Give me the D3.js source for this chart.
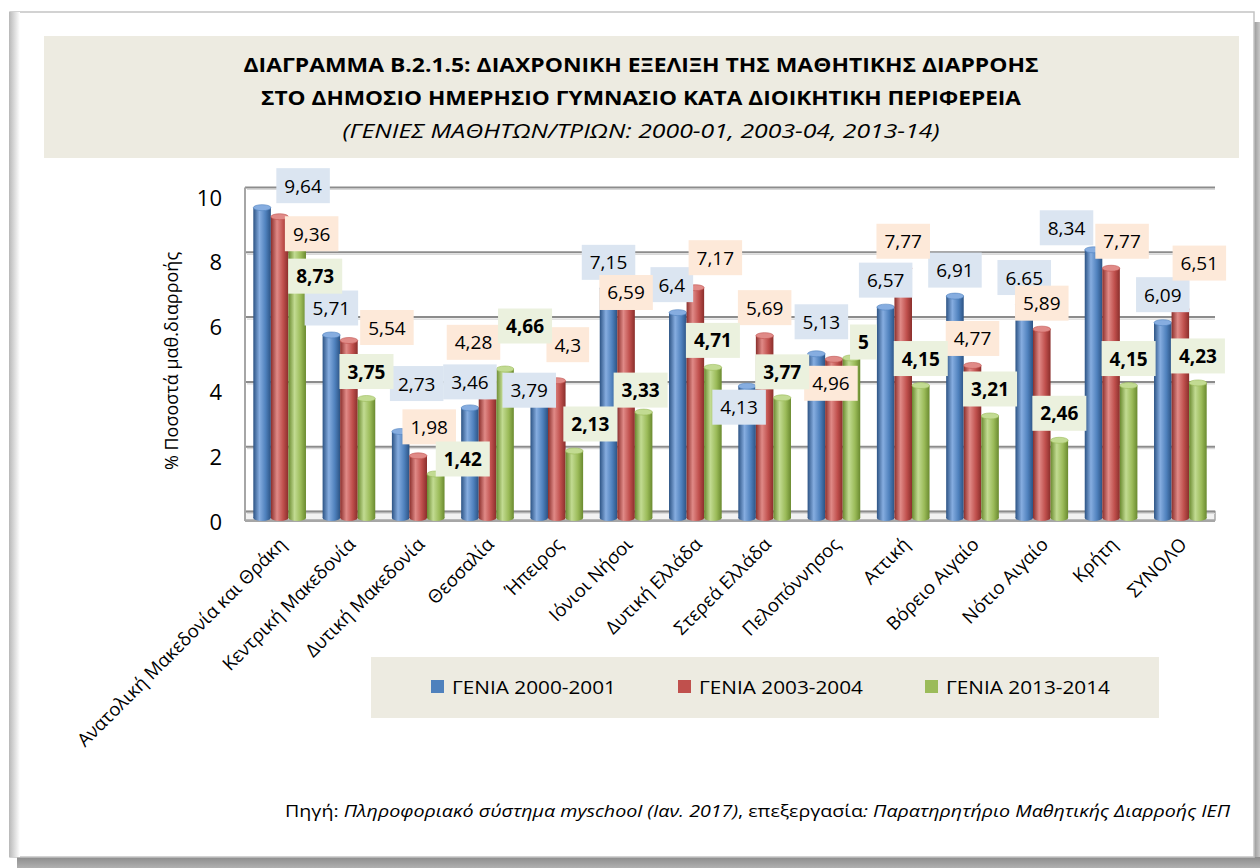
<!DOCTYPE html>
<html>
<head>
<meta charset="utf-8">
<script src="https://cdn.jsdelivr.net/npm/d3@7"></script>
<style>
  body { margin: 0; background: #fff; }
  svg { display: block; }
  text { font-family: "Open Sans", "Noto Sans", sans-serif; fill: #000; }
</style>
</head>
<body>
<svg id="chart" width="1260" height="868"></svg>
<script>
// chart data
var categories = ["Ανατολική Μακεδονία και Θράκη", "Κεντρική Μακεδονία", "Δυτική Μακεδονία", "Θεσσαλία",
  "Ήπειρος", "Ιόνιοι Νήσοι", "Δυτική Ελλάδα", "Στερεά Ελλάδα", "Πελοπόννησος", "Αττική",
  "Βόρειο Αιγαίο", "Νότιο Αιγαίο", "Κρήτη", "ΣΥΝΟΛΟ"];
var seriesNames = ["ΓΕΝΙΑ 2000-2001", "ΓΕΝΙΑ 2003-2004", "ΓΕΝΙΑ 2013-2014"];
var gen2000 = [9.64, 5.71, 2.73, 3.46, 3.79, 7.15, 6.4, 4.13, 5.13, 6.57, 6.91, 6.65, 8.34, 6.09];
var gen2003 = [9.36, 5.54, 1.98, 4.28, 4.3, 6.59, 7.17, 5.69, 4.96, 7.77, 4.77, 5.89, 7.77, 6.51];
var gen2013 = [8.73, 3.75, 1.42, 4.66, 2.13, 3.33, 4.71, 3.77, 5, 4.15, 3.21, 2.46, 4.15, 4.23];
var yTicks = [0, 2, 4, 6, 8, 10];
// the original prints this one value with a dot
var labelOverride = { "0-11": "6.65" };

// layout: where each value label sits relative to its bar top [dx, dy]
var offs2000 = [[41,-22],[0,-27],[16,-48],[0,-26],[-10,-7],[0,-26],[-6,-28],[-8,21],[5,-32],[0,-27],[0,-26],[0,-27],[-27,-22],[0,-28]];
var offs2003 = [[32,17],[38,-13],[11,-29],[-14,-39],[11,-36],[0,-14],[20,-30],[0,-28],[-3,24],[0,-27],[0,-27],[0,-26],[11,-27],[19,-46]];
var offs2013 = [[18,39],[0,-27],[27,-15],[20,-43],[16,-27],[-3,-22],[0,-27],[0,-26],[12,-16],[0,-27],[0,-27],[0,-27],[0,-27],[0,-27]];

var series = [
  { name: seriesNames[0], values: gen2000, offs: offs2000, color: "#4F81BD", dark: "#2c5384", light: "#86ade0", tag: "#DBE5F1", bold: false },
  { name: seriesNames[1], values: gen2003, offs: offs2003, color: "#C0504D", dark: "#8a2e2b", light: "#e08a87", tag: "#FDE9D9", bold: false },
  { name: seriesNames[2], values: gen2013, offs: offs2013, color: "#9BBB59", dark: "#6a8a2f", light: "#c2db92", tag: "#EBF1DE", bold: true }
];

var svg = d3.select("#chart");
var defs = svg.append("defs");

// ---- outer frame with shadow ----
var lg = defs.append("linearGradient").attr("id", "leftBand");
lg.append("stop").attr("offset", 0).attr("stop-color", "#b8b8b8");
lg.append("stop").attr("offset", 1).attr("stop-color", "#ffffff");
var bg = defs.append("linearGradient").attr("id", "botBand").attr("x1", 0).attr("x2", 0).attr("y1", 0).attr("y2", 1);
bg.append("stop").attr("offset", 0).attr("stop-color", "#8c8c8c");
bg.append("stop").attr("offset", 1).attr("stop-color", "#b0b0b0");
var rg = defs.append("linearGradient").attr("id", "rightBand");
rg.append("stop").attr("offset", 0).attr("stop-color", "#9a9a9a");
rg.append("stop").attr("offset", 1).attr("stop-color", "#c8c8c8");

svg.append("rect").attr("x", 1254).attr("y", 22).attr("width", 6).attr("height", 846).attr("fill", "url(#rightBand)");
svg.append("rect").attr("x", 17).attr("y", 857).attr("width", 1243).attr("height", 11).attr("fill", "url(#botBand)");
svg.append("rect").attr("x", 10).attr("y", 12).attr("width", 1244).attr("height", 845)
  .attr("fill", "#fff").attr("stroke", "#c4c4c4").attr("stroke-width", 1.5);
svg.append("rect").attr("x", 9).attr("y", 12).attr("width", 11).attr("height", 845).attr("fill", "url(#leftBand)");

// ---- title ----
svg.append("rect").attr("x", 44).attr("y", 36).attr("width", 1195).attr("height", 122).attr("fill", "#EDEBE1");
var titleLines = [
  { t: "ΔΙΑΓΡΑΜΜΑ Β.2.1.5: ΔΙΑΧΡΟΝΙΚΗ ΕΞΕΛΙΞΗ ΤΗΣ ΜΑΘΗΤΙΚΗΣ ΔΙΑΡΡΟΗΣ", y: 72, len: 795, italic: false },
  { t: "ΣΤΟ ΔΗΜΟΣΙΟ ΗΜΕΡΗΣΙΟ ΓΥΜΝΑΣΙΟ ΚΑΤΑ ΔΙΟΙΚΗΤΙΚΗ ΠΕΡΙΦΕΡΕΙΑ", y: 105, len: 760, italic: false },
  { t: "(ΓΕΝΙΕΣ ΜΑΘΗΤΩΝ/ΤΡΙΩΝ: 2000-01, 2003-04, 2013-14)", y: 138, len: 597, italic: true }
];
svg.selectAll(".title").data(titleLines).enter().append("text")
  .attr("class", "title")
  .attr("x", 641).attr("y", function(d) { return d.y; })
  .attr("text-anchor", "middle")
  .attr("font-size", 20)
  .attr("font-weight", function(d) { return d.italic ? "normal" : "bold"; })
  .attr("font-style", function(d) { return d.italic ? "italic" : "normal"; })
  .attr("textLength", function(d) { return d.len; })
  .attr("lengthAdjust", "spacingAndGlyphs")
  .text(function(d) { return d.t; });

// ---- scales ----
var x0 = d3.scaleBand().domain(categories).range([245, 1215]).paddingInner(0.24).paddingOuter(0.12);
var x1 = d3.scaleBand().domain(seriesNames).range([0, x0.bandwidth()]);
var y = d3.scaleLinear().domain([0, 10]).range([520, 196]);
var back = -8.5; // back wall is drawn a little higher than the front

// ---- walls, floor, gridlines ----
var plot = svg.append("g");
plot.append("path")
  .attr("d", "M245," + y(0) + "L1215," + y(0) + "L1215," + (y(0) + back) + "L245," + (y(0) + back) + "Z")
  .attr("fill", "#f2f2f2").attr("stroke", "#a6a6a6").attr("stroke-width", 1.5);
plot.selectAll(".grid").data(yTicks).enter().append("line")
  .attr("x1", 245).attr("x2", 1215)
  .attr("y1", function(d) { return y(d) + back; })
  .attr("y2", function(d) { return y(d) + back; })
  .attr("stroke", "#8c8c8c").attr("stroke-width", 2);
plot.selectAll(".grid2").data(yTicks).enter().append("line")
  .attr("x1", 247).attr("x2", 1215)
  .attr("y1", function(d) { return y(d) + back + 2; })
  .attr("y2", function(d) { return y(d) + back + 2; })
  .attr("stroke", "#d9d9d9").attr("stroke-width", 1.2);
plot.append("line").attr("x1", 245).attr("x2", 245).attr("y1", y(10) + back).attr("y2", y(0) + 1)
  .attr("stroke", "#a6a6a6").attr("stroke-width", 2);
plot.append("line").attr("x1", 245).attr("x2", 1215).attr("y1", y(0) + 1).attr("y2", y(0) + 1)
  .attr("stroke", "#a6a6a6").attr("stroke-width", 2);

// ---- y axis ----
var yAxis = d3.axisLeft(y).tickValues(yTicks).tickSize(0).tickPadding(0).tickFormat(d3.format("d"));
var ya = svg.append("g").attr("transform", "translate(222,2)").call(yAxis);
ya.select(".domain").remove();
ya.selectAll("text").attr("font-size", 22).attr("font-family", "'Open Sans', sans-serif").attr("fill", "#000");

svg.append("text")
  .attr("transform", "translate(178,361) rotate(-90)")
  .attr("text-anchor", "middle")
  .attr("font-size", 18)
  .text("% Ποσοστά μαθ.διαρροής");

// ---- cylinder gradients ----
series.forEach(function(s, i) {
  var g = defs.append("linearGradient").attr("id", "cyl" + i);
  g.append("stop").attr("offset", 0).attr("stop-color", s.dark);
  g.append("stop").attr("offset", 0.35).attr("stop-color", s.light);
  g.append("stop").attr("offset", 0.7).attr("stop-color", s.color);
  g.append("stop").attr("offset", 1).attr("stop-color", s.dark);
});

// ---- bars ----
var bw = x1.bandwidth();
var groups = svg.append("g").selectAll(".grp").data(categories).enter().append("g")
  .attr("transform", function(d) { return "translate(" + x0(d) + ",0)"; });

series.forEach(function(s, si) {
  groups.each(function(cat, ci) {
    var g = d3.select(this);
    var v = s.values[ci];
    var bx = x1(s.name);
    g.append("ellipse").attr("cx", bx + bw / 2).attr("cy", y(0) - 2).attr("rx", bw / 2).attr("ry", 3)
      .attr("fill", "url(#cyl" + si + ")");
    g.append("rect").attr("x", bx).attr("y", y(v)).attr("width", bw).attr("height", y(0) - 2 - y(v))
      .attr("fill", "url(#cyl" + si + ")");
    g.append("ellipse").attr("cx", bx + bw / 2).attr("cy", y(v)).attr("rx", bw / 2).attr("ry", 3)
      .attr("fill", s.light).attr("stroke", s.color).attr("stroke-width", 0.6);
  });
});

// ---- value labels ----
var labels = svg.append("g");
series.forEach(function(s, si) {
  s.values.forEach(function(v, ci) {
    var cx = x0(categories[ci]) + x1(s.name) + bw / 2 + s.offs[ci][0];
    var cy = y(v) + s.offs[ci][1];
    var txt = labelOverride[si + "-" + ci] || String(v).replace(".", ",");
    var lab = labels.append("g");
    var t = lab.append("text")
      .attr("x", cx).attr("y", cy + 7)
      .attr("text-anchor", "middle")
      .attr("font-size", 19)
      .attr("font-weight", s.bold ? "bold" : "normal")
      .text(txt);
    var w = t.node().getComputedTextLength() + 16;
    lab.insert("rect", "text")
      .attr("x", cx - w / 2).attr("y", cy - 17.5)
      .attr("width", w).attr("height", 35)
      .attr("fill", s.tag);
  });
});

// ---- category labels ----
svg.selectAll(".cat").data(categories).enter().append("text")
  .attr("class", "cat")
  .attr("transform", function(d) { return "translate(" + (x0(d) + x0.bandwidth() / 2 + 3) + ",541) rotate(-45)"; })
  .attr("text-anchor", "end")
  .attr("dy", "0.35em")
  .attr("font-size", 18.5)
  .text(function(d) { return d; });

// ---- legend ----
svg.append("rect").attr("x", 371).attr("y", 657).attr("width", 788).attr("height", 61).attr("fill", "#EDEBE1");
var leg = svg.selectAll(".leg").data(series).enter().append("g")
  .attr("transform", function(d, i) { return "translate(" + (431 + i * 247) + ",680)"; });
leg.append("rect").attr("width", 13).attr("height", 13).attr("fill", function(d) { return d.color; });
leg.append("text").attr("x", 21).attr("y", 14).attr("font-size", 19)
  .attr("textLength", 164).attr("lengthAdjust", "spacingAndGlyphs")
  .text(function(d) { return d.name; });

// ---- source note ----
var src = svg.append("text").attr("x", 1230).attr("y", 817).attr("text-anchor", "end").attr("font-size", 17)
  .attr("textLength", 945).attr("lengthAdjust", "spacingAndGlyphs");
src.append("tspan").text("Πηγή: ");
src.append("tspan").attr("font-style", "italic").text("Πληροφοριακό σύστημα myschool (Ιαν. 2017)");
src.append("tspan").text(", επεξεργασία");
src.append("tspan").attr("font-style", "italic").text(": Παρατηρητήριο Μαθητικής Διαρροής ΙΕΠ");
</script>
</body>
</html>
